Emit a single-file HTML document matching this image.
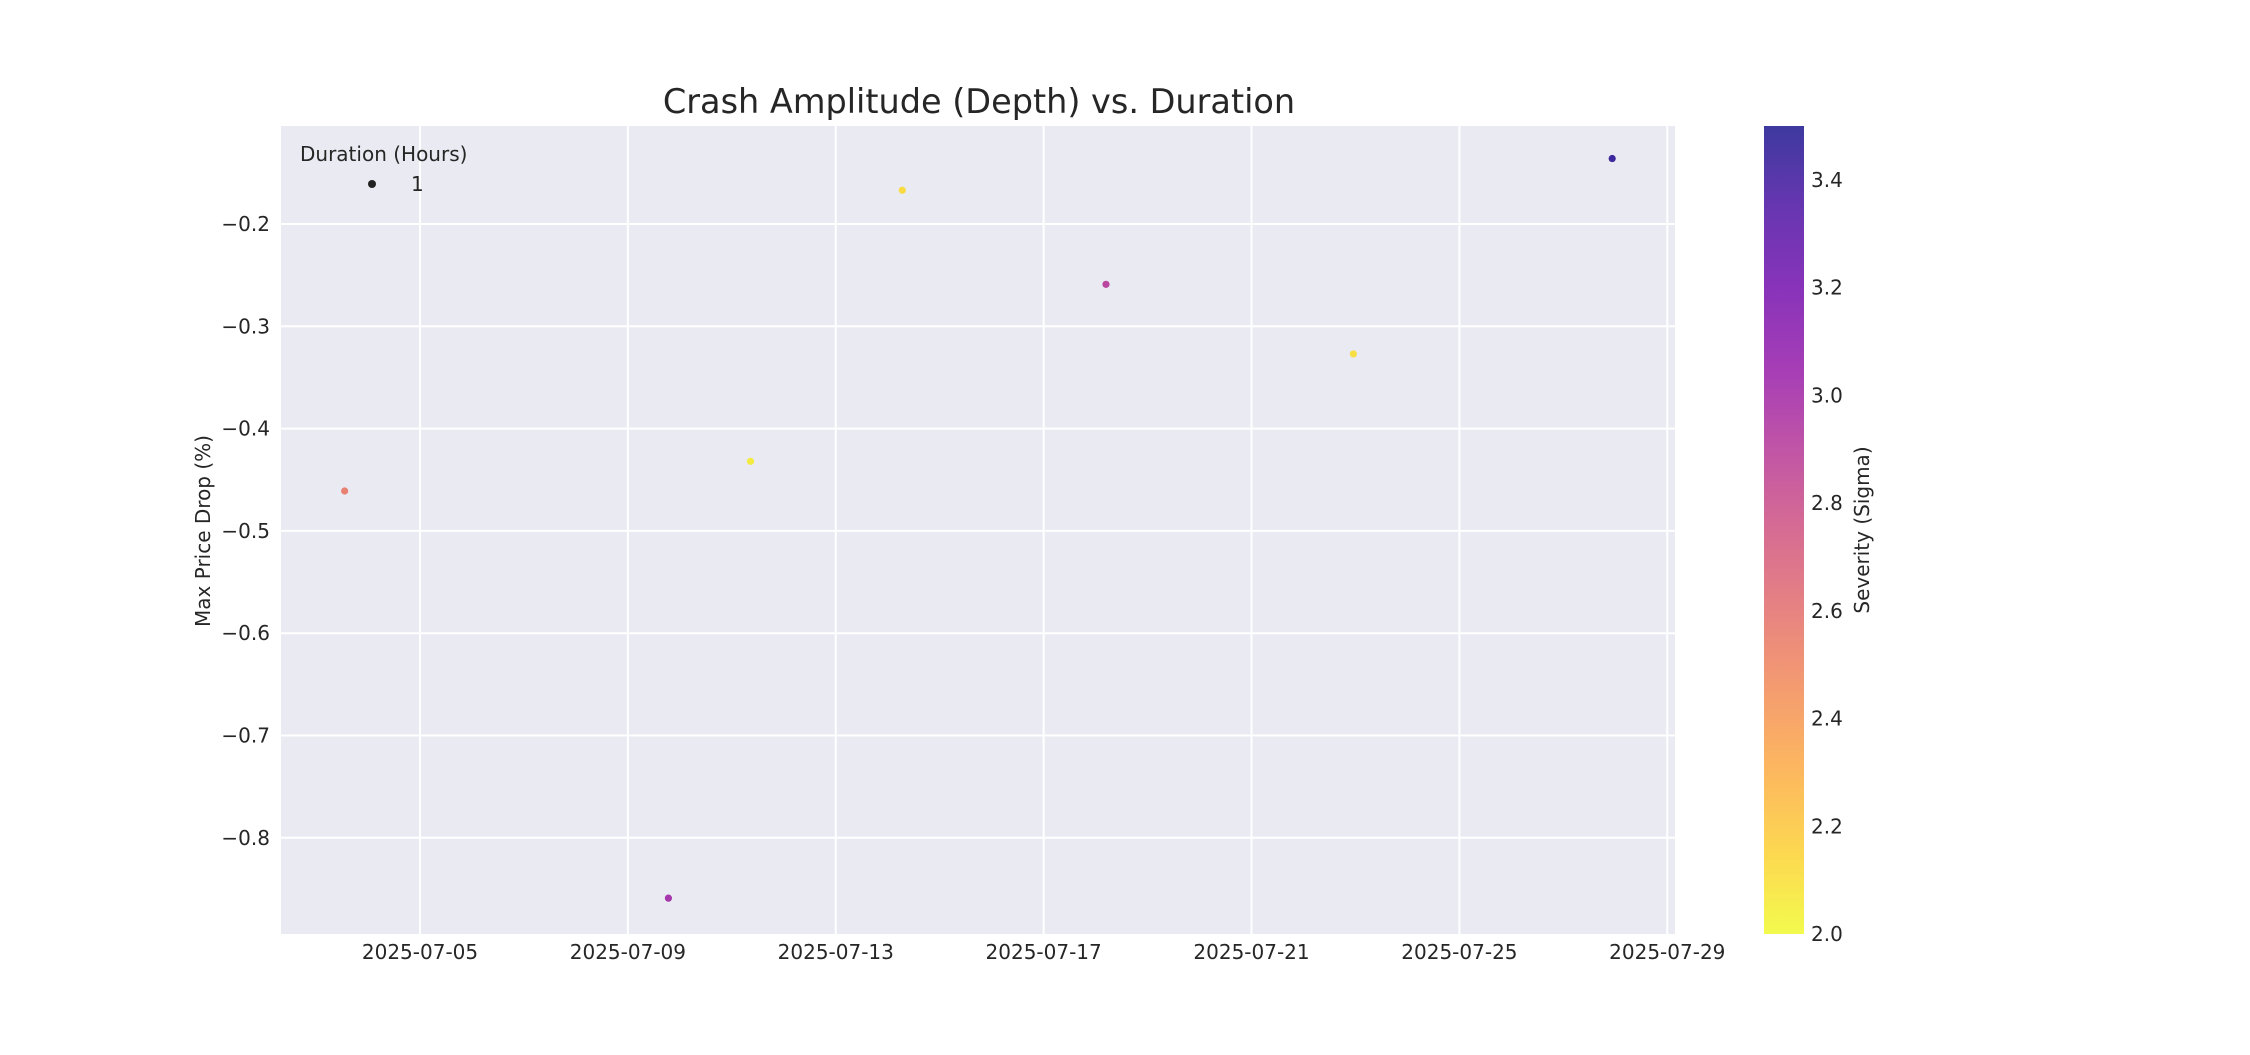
<!DOCTYPE html>
<html><head><meta charset="utf-8"><style>
body{margin:0;background:#fff}
svg text{font-family:"DejaVu Sans","Liberation Sans",sans-serif;fill:#262626}
</style></head><body>
<svg id="chart" width="2250" height="1050" xmlns="http://www.w3.org/2000/svg">
<defs><linearGradient id="plasma" x1="0" y1="1" x2="0" y2="0"></linearGradient></defs>
<rect x="281" y="126" width="1394" height="808" fill="#eaeaf2"/>
<g id="grid"></g><g id="points"></g><g id="axes"></g>
<text x="979" y="113" font-size="33.5" text-anchor="middle">Crash Amplitude (Depth) vs. Duration</text>
<text transform="translate(210,531) rotate(-90)" font-size="20" text-anchor="middle">Max Price Drop (%)</text>
<g>
<text x="300" y="161" font-size="20">Duration (Hours)</text>
<circle cx="372" cy="184" r="4" fill="#222"/>
<text x="411" y="191" font-size="20">1</text>
</g>
<rect x="1764" y="126" width="40" height="808" fill="url(#plasma)"/>
<g id="cbticks"></g>
<text transform="translate(1869,530) rotate(-90)" font-size="20" text-anchor="middle">Severity (Sigma)</text>
</svg>
<script>
const days=[3.55,9.78,11.36,14.28,18.2,22.96,27.94];
const drops=[-0.461,-0.859,-0.432,-0.167,-0.259,-0.327,-0.136];
const severity=[2.55,3.0,2.05,2.12,2.9,2.1,3.45];
const xTickDays=[5,9,13,17,21,25,29];
const xTickLabels=["2025-07-05","2025-07-09","2025-07-13","2025-07-17","2025-07-21","2025-07-25","2025-07-29"];
const yTicks=[-0.2,-0.3,-0.4,-0.5,-0.6,-0.7,-0.8];
const cTicks=[2.0,2.2,2.4,2.6,2.8,3.0,3.2,3.4];
const NS="http://www.w3.org/2000/svg";
const X0=281,X1=1675,Y0=126,Y1=934;
const xs=d=>420+(d-5)*51.97;
const ys=v=>224+(-0.2-v)*1023;
const cs=v=>934-(v-2.0)/(1.5)*808;
const stops=["#0d0887","#41049d","#6a00a8","#8f0da4","#b12a90","#cc4778","#e16462","#f2844b","#fca636","#fcce25","#f0f921"];
function hex(h){return [1,3,5].map(i=>parseInt(h.substr(i,2),16));}
function cmap(v){let t=1-(v-2.0)/1.5;t=Math.max(0,Math.min(1,t));const p=t*10,i=Math.min(9,Math.floor(p)),f=p-i;
const a=hex(stops[i]),b=hex(stops[i+1]);return "rgb("+a.map((c,k)=>Math.round(c+(b[k]-c)*f)).join(",")+")";}
function mk(tag,attrs,parent){const e=document.createElementNS(NS,tag);for(const k in attrs)e.setAttribute(k,attrs[k]);parent.appendChild(e);return e;}
const grad=document.getElementById('plasma');
for(let i=0;i<=10;i++){mk('stop',{offset:(i/10),'stop-color':stops[10-i],'stop-opacity':0.8},grad);}
const grid=document.getElementById('grid'),axes=document.getElementById('axes');
xTickDays.forEach((d,i)=>{
 const l=mk('line',{x1:xs(d),x2:xs(d),y1:Y0,y2:Y1,stroke:'#fff','stroke-width':2},grid);
 
 
 const t=mk('text',{x:xs(d),y:959,'font-size':20,'text-anchor':'middle'},axes);t.textContent=xTickLabels[i];
 
 
});
yTicks.forEach(v=>{
 const l=mk('line',{x1:X0,x2:X1,y1:ys(v),y2:ys(v),stroke:'#fff','stroke-width':2},grid);
 
 
 const t=mk('text',{x:270,y:ys(v)+7,'font-size':20,'text-anchor':'end'},axes);t.textContent=v.toFixed(1).replace('-','\u2212');
 
 
});
const pts=document.getElementById('points');
days.forEach((d,i)=>{
 const c=mk('circle',{cx:xs(d),cy:ys(drops[i]),r:3.6,fill:cmap(severity[i]),'fill-opacity':0.85},pts);
 
 
});
const cb=document.getElementById('cbticks');
cTicks.forEach(v=>{
 const t=mk('text',{x:1811,y:cs(v)+7,'font-size':20},cb);t.textContent=v.toFixed(1);
 
 
});
</script>
</body></html>
